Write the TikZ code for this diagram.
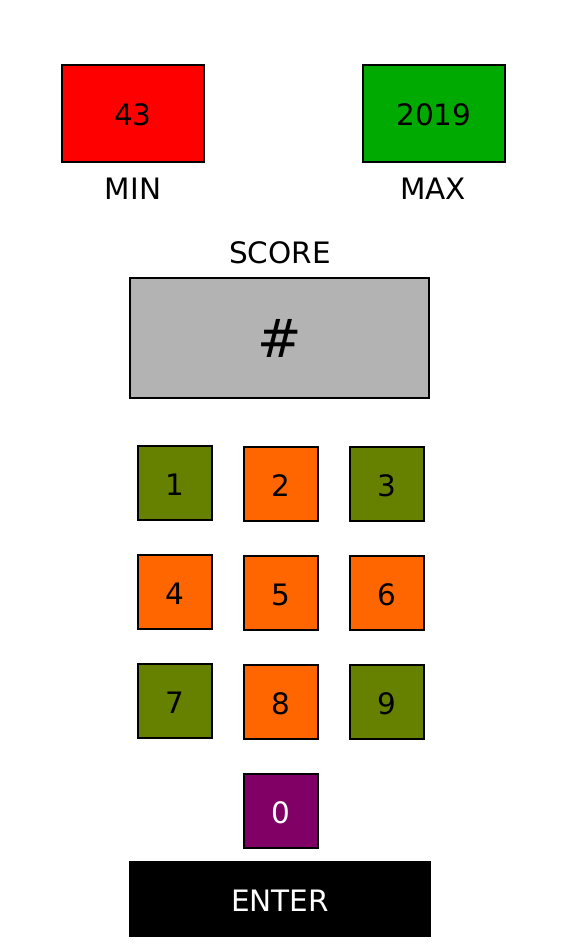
\documentclass[tikz,border=0pt]{standalone}
\usepackage{fontspec}
\setmainfont{DejaVu Sans}
\definecolor{minred}{HTML}{FF0000}
\definecolor{maxgreen}{HTML}{00AA00}
\definecolor{scoregray}{HTML}{B3B3B3}
\definecolor{keyolive}{HTML}{668000}
\definecolor{keyorange}{HTML}{FF6600}
\definecolor{keypurple}{HTML}{800066}
\begin{document}
\begin{tikzpicture}[x=1pt,y=-1pt,
  box/.style={draw=black, line width=1.2pt, inner sep=0pt, text height=24.5pt, text depth=0pt, font=\fontsize{29.5}{35}\selectfont},
  bigbox/.style={box, minimum width=142pt, minimum height=97pt},
  keybox/.style={box, minimum width=74pt, minimum height=74pt},
  lbl/.style={inner sep=0pt, font=\fontsize{29.5}{35}\selectfont}]
\useasboundingbox (0,0) rectangle (567,945);
\node[bigbox, fill=minred] (min) at (133,113.5) {43};
\node[bigbox, fill=maxgreen] (max) at (434,113.5) {2019};
\node[lbl] (minl) at (133,189) {MIN};
\node[lbl] (maxl) at (433,189) {MAX};
\node[lbl] (scorel) at (280,252.5) {SCORE};
\node[box, fill=scoregray, minimum width=299pt, minimum height=120pt, text height=39pt, font=\fontsize{53}{60}\selectfont] (score) at (279.5,338) {\#};
\node[keybox, fill=keyolive] (k1) at (175,483) {1};
\node[keybox, fill=keyorange] (k2) at (281,484) {2};
\node[keybox, fill=keyolive] (k3) at (387,484) {3};
\node[keybox, fill=keyorange] (k4) at (175,592) {4};
\node[keybox, fill=keyorange] (k5) at (281,593) {5};
\node[keybox, fill=keyorange] (k6) at (387,593) {6};
\node[keybox, fill=keyolive] (k7) at (175,701) {7};
\node[keybox, fill=keyorange] (k8) at (281,702) {8};
\node[keybox, fill=keyolive] (k9) at (387,702) {9};
\node[keybox, fill=keypurple, text=white] (k0) at (281,811) {0};
\node[box, fill=black, text=white, minimum width=300pt, minimum height=75pt] (enter) at (280,899) {ENTER};
\end{tikzpicture}
\end{document}
